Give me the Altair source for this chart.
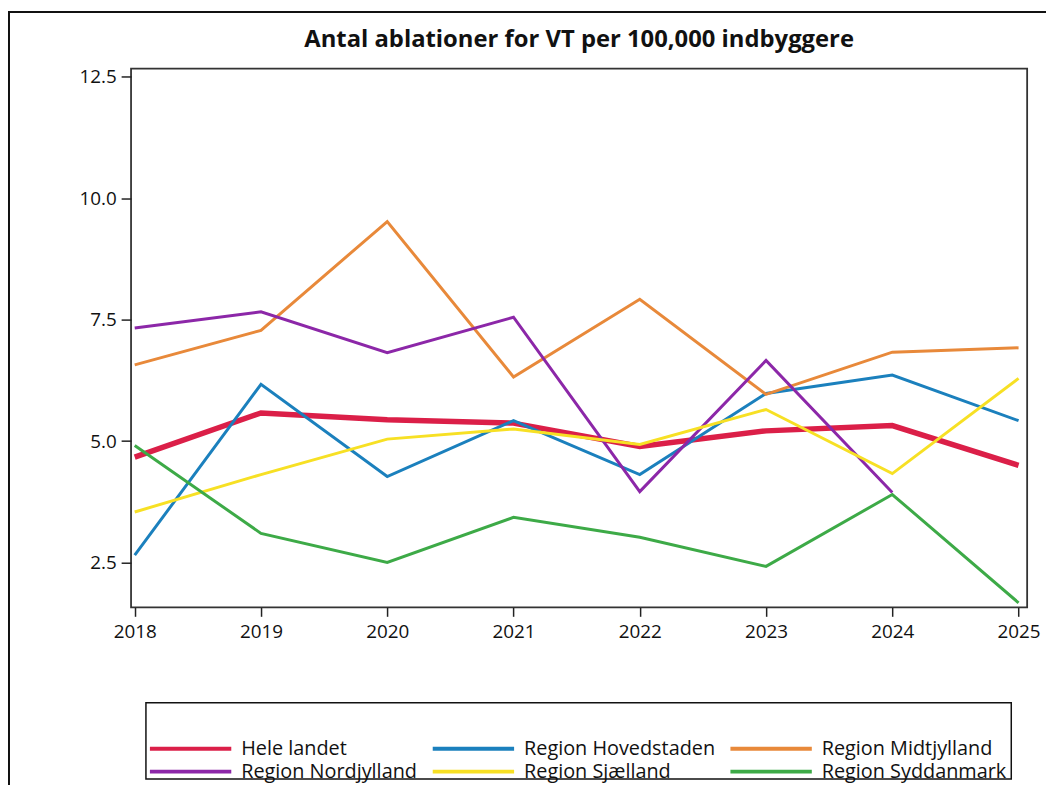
import altair as alt
import pandas as pd

years = [2018, 2019, 2020, 2021, 2022, 2023, 2024, 2025]
series_names = ["Hele landet", "Region Hovedstaden", "Region Midtjylland",
                "Region Nordjylland", "Region Sjælland", "Region Syddanmark"]
hele_landet = [4.67, 5.58, 5.44, 5.37, 4.89, 5.21, 5.32, 4.50]
hovedstaden = [2.65, 6.17, 4.27, 5.42, 4.31, 5.98, 6.36, 5.42]
midtjylland = [6.57, 7.28, 9.52, 6.32, 7.92, 5.96, 6.83, 6.92]
nordjylland = [7.33, 7.66, 6.82, 7.55, 3.96, 6.66, 3.94, None]
sjaelland = [3.54, 4.31, 5.04, 5.25, 4.93, 5.65, 4.33, 6.29]
syddanmark = [4.91, 3.10, 2.50, 3.43, 3.02, 2.42, 3.90, 1.67]
colors = ["#DB1F48", "#1B80BD", "#E8893A", "#8C27A8", "#F7E024", "#3DAA47"]
y_ticks = [2.5, 5.0, 7.5, 10.0, 12.5]

all_values = [hele_landet, hovedstaden, midtjylland, nordjylland, sjaelland, syddanmark]
rows = []
for name, vals in zip(series_names, all_values):
    for yr, v in zip(years, vals):
        if v is not None:
            rows.append({"Region": name, "Aar": yr, "Rate": v})
df = pd.DataFrame(rows)

FONT = "Open Sans"

x_enc = alt.X("Aar:Q",
              scale=alt.Scale(domain=[2017.971, 2025.068], nice=False, zero=False),
              axis=alt.Axis(values=years, format="d", title=None, grid=False, domain=False,
                            tickSize=9, tickColor="#222", tickWidth=1.5, labelPadding=6,
                            labelFont=FONT, labelFontSize=19, labelColor="#111"))
y_enc = alt.Y("Rate:Q",
              scale=alt.Scale(domain=[1.576, 12.67], nice=False, zero=False),
              axis=alt.Axis(values=y_ticks, format=".1f", title=None, grid=False, domain=False,
                            tickSize=10, tickColor="#222", tickWidth=1.5, labelPadding=5,
                            labelFont=FONT, labelFontSize=19, labelColor="#111"))
color_enc = alt.Color("Region:N",
                      scale=alt.Scale(domain=series_names, range=colors),
                      legend=alt.Legend(orient="none", legendX=15, legendY=643,
                                        columns=3, direction="horizontal",
                                        symbolType="stroke", symbolSize=6724,
                                        symbolStrokeWidth=4, labelFont=FONT, labelFontSize=20,
                                        labelOffset=8, labelLimit=400, columnPadding=13,
                                        rowPadding=2, clipHeight=21, padding=2,
                                        title=" ", titleFontSize=20,
                                        titlePadding=10, gridAlign="each", labelColor="#111"))

base = alt.Chart(df)
national = base.transform_filter(alt.datum.Region == "Hele landet").mark_line(
    strokeWidth=5.5).encode(x=x_enc, y=y_enc, color=color_enc)
regions = base.transform_filter(alt.datum.Region != "Hele landet").mark_line(
    strokeWidth=3).encode(x=x_enc, y=y_enc, color=color_enc)

frame_df = pd.DataFrame({"k": [0]})
left_border = alt.Chart(frame_df).mark_rule(color="#111", strokeWidth=2).encode(
    x=alt.value(-123), y=alt.value(-57), y2=alt.value(722))
top_border = alt.Chart(frame_df).mark_rule(color="#111", strokeWidth=2).encode(
    x=alt.value(-124), x2=alt.value(930), y=alt.value(-57))
legend_box = alt.Chart(frame_df).mark_rect(filled=False, stroke="#111", strokeWidth=1.5).encode(
    x=alt.value(15), x2=alt.value(887), y=alt.value(639), y2=alt.value(716))

chart = alt.layer(national, regions, left_border, top_border, legend_box).properties(
    width=903, height=543,
    padding={"left": 124, "top": 58, "right": 19, "bottom": 177},
    autosize=alt.AutoSizeParams(type="none"),
    background="white",
    title=alt.TitleParams("Antal ablationer for VT per 100,000 indbyggere",
                          font=FONT, fontSize=24, fontWeight="bold", color="#111",
                          anchor="middle", frame="group", baseline="alphabetic",
                          offset=-60),
).configure_view(stroke="#333", strokeWidth=1.8)

chart.save("out.html", embed_options={"renderer": "svg", "actions": False})
